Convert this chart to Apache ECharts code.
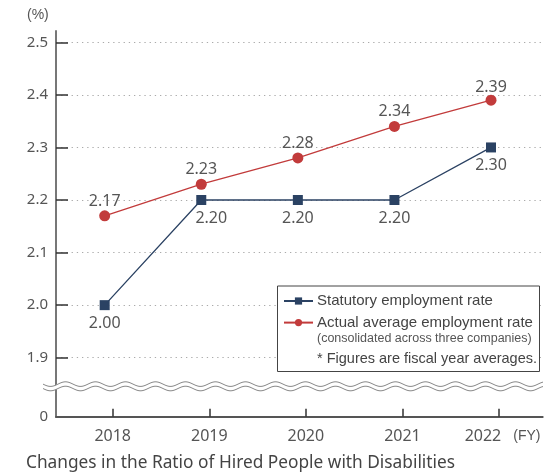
<!DOCTYPE html>
<html><head><meta charset="utf-8">
<script src="https://cdn.jsdelivr.net/npm/echarts@6/dist/echarts.min.js"></script>
<style>html,body{margin:0;padding:0;background:#fff}#c{width:560px;height:475px}</style>
</head><body><div id="c"></div>
<script>
const years = [2018, 2019, 2020, 2021, 2022];
const statutory = [2.00, 2.20, 2.20, 2.20, 2.30];
const actual = [2.17, 2.23, 2.28, 2.34, 2.39];
const yTicks = [1.9, 2.0, 2.1, 2.2, 2.3, 2.4, 2.5];
const seriesNames = ['Statutory employment rate', 'Actual average employment rate'];
const legendNotes = ['(consolidated across three companies)', '* Figures are fiscal year averages.'];
const caption = 'Changes in the Ratio of Hired People with Disabilities';

(function () {
const Y_MIN = 1.7878; // bottom of the broken axis, labelled "0"
const Y_MAX = 2.5215;
const X_MIN = 2017.413, X_MAX = 2022.452;
const SHIFT = 0.083; // markers sit slightly left of the year ticks in the original
const FONT = "'Noto Sans', sans-serif";
const NARROW = "'Liberation Sans', Arial, sans-serif";
const txt = '#555';
const lastYear = years[years.length - 1];

const chart = echarts.init(document.getElementById('c'), null, {renderer: 'canvas'});
const yVals = [Y_MIN].concat(yTicks);
const opt = {
  animation: false,
  backgroundColor: '#fff',
  grid: {left: 56, right: 17.3, top: 31, bottom: 58.3, containLabel: false},
  title: {text: caption, left: 21, top: 450, textStyle: {fontFamily: FONT, fontSize: 17.3, fontWeight: 'normal', color: '#444'}},
  xAxis: [{
    type: 'value', min: X_MIN, max: X_MAX,
    splitLine: {show: false},
    axisLine: {show: true, lineStyle: {color: '#555', width: 2}},
    axisTick: {show: true, inside: true, length: 8, customValues: years, lineStyle: {color: '#333', width: 1.5}},
    axisLabel: {customValues: years, margin: 12, fontFamily: FONT, fontSize: 16, color: txt,
      formatter: v => v === lastYear ? '{a|' + v + '}{g|}{fy|(FY)}' : String(v),
      rich: {
        a: {fontFamily: FONT, fontSize: 16, color: txt, padding: [0, 0, 0, 7]},
        g: {width: 12},
        fy: {fontFamily: NARROW, fontSize: 14, color: txt, padding: [0, 0, 1, 0]}
      }}
  }, {
    type: 'value', min: X_MIN + SHIFT, max: X_MAX + SHIFT, show: false, position: 'bottom',
    splitLine: {show: false}
  }],
  yAxis: {
    type: 'value', min: Y_MIN, max: Y_MAX,
    axisLine: {show: true, lineStyle: {color: '#777', width: 2}},
    axisTick: {show: true, inside: true, length: 12, customValues: yTicks, lineStyle: {color: '#333', width: 1.5}},
    axisLabel: {customValues: yVals, margin: 8, fontFamily: FONT, fontSize: 15, color: txt,
      formatter: v => Math.abs(v - Y_MIN) < 1e-6 ? '0' : v.toFixed(1)},
    splitLine: {show: true, lineStyle: {color: '#aaa', width: 1.2, type: [1.3, 3.9]}}
  },
  legend: {
    orient: 'vertical', left: 278, top: 293, padding: [0, 0, 0, 5],
    itemWidth: 29, itemHeight: 9, itemGap: 5.6,
    textStyle: {fontFamily: NARROW, fontSize: 15, lineHeight: 16, color: '#444', padding: [0, 0, 0, -1]},
    data: seriesNames
  },
  series: [
    {name: seriesNames[0], type: 'line', xAxisIndex: 1,
      data: years.map((y, i) => ({value: [y, statutory[i]], label: i === 1 ? {offset: [10, 0]} : undefined})),
      symbol: 'rect', symbolSize: 10, z: 3,
      itemStyle: {color: '#2b4263'}, lineStyle: {color: '#2b4263', width: 1.3},
      label: {show: true, position: 'bottom', distance: 5, fontFamily: FONT, fontSize: 16, color: txt,
        formatter: p => p.value[1].toFixed(2)}},
    {name: seriesNames[1], type: 'line', xAxisIndex: 1,
      data: years.map((y, i) => ({value: [y, actual[i]], label: i === years.length - 1 ? {distance: -1} : undefined})),
      symbol: 'circle', symbolSize: 11, z: 2,
      itemStyle: {color: '#c23b3b'}, lineStyle: {color: '#c23b3b', width: 1.3},
      label: {show: true, position: 'top', distance: 1, fontFamily: FONT, fontSize: 16, color: txt,
        formatter: p => p.value[1].toFixed(2)}}
  ]
};
chart.setOption(opt);

const breakY = chart.convertToPixel({yAxisIndex: 0}, 1.8456);
const xL = 43, xR = 543, period = 30, amp = 2.3;
function wave(yc) {
  const pts = [];
  for (let x = xL; x <= xR + 0.01; x += 1) pts.push([x, yc + amp * Math.sin((x - xL) / period * 2 * Math.PI)]);
  return pts;
}
const waveTop = wave(breakY - 2.2), waveBot = wave(breakY + 2.2);
const poly = waveTop.concat(waveBot.slice().reverse());
chart.setOption({
  graphic: [
    {type: 'polygon', shape: {points: poly}, style: {fill: '#fff'}, z: 50},
    {type: 'polyline', shape: {points: waveTop}, style: {stroke: '#888', lineWidth: 1, fill: null}, z: 51},
    {type: 'polyline', shape: {points: waveBot}, style: {stroke: '#888', lineWidth: 1, fill: null}, z: 51},
    {type: 'rect', shape: {x: 277.5, y: 286, width: 262, height: 85.5}, style: {fill: '#fff', stroke: '#444', lineWidth: 1}, z: 0},
    {type: 'text', left: 317, top: 332, style: {text: legendNotes[0], font: "12.5px " + NARROW, fill: '#555'}, z: 60},
    {type: 'text', left: 317, top: 351, style: {text: legendNotes[1], font: "14.5px " + NARROW, fill: '#444'}, z: 60},
    {type: 'text', left: 27, top: 8, style: {text: '(%)', font: "14px " + NARROW, fill: '#555'}, z: 60}
  ]
});
})();
</script></body></html>
